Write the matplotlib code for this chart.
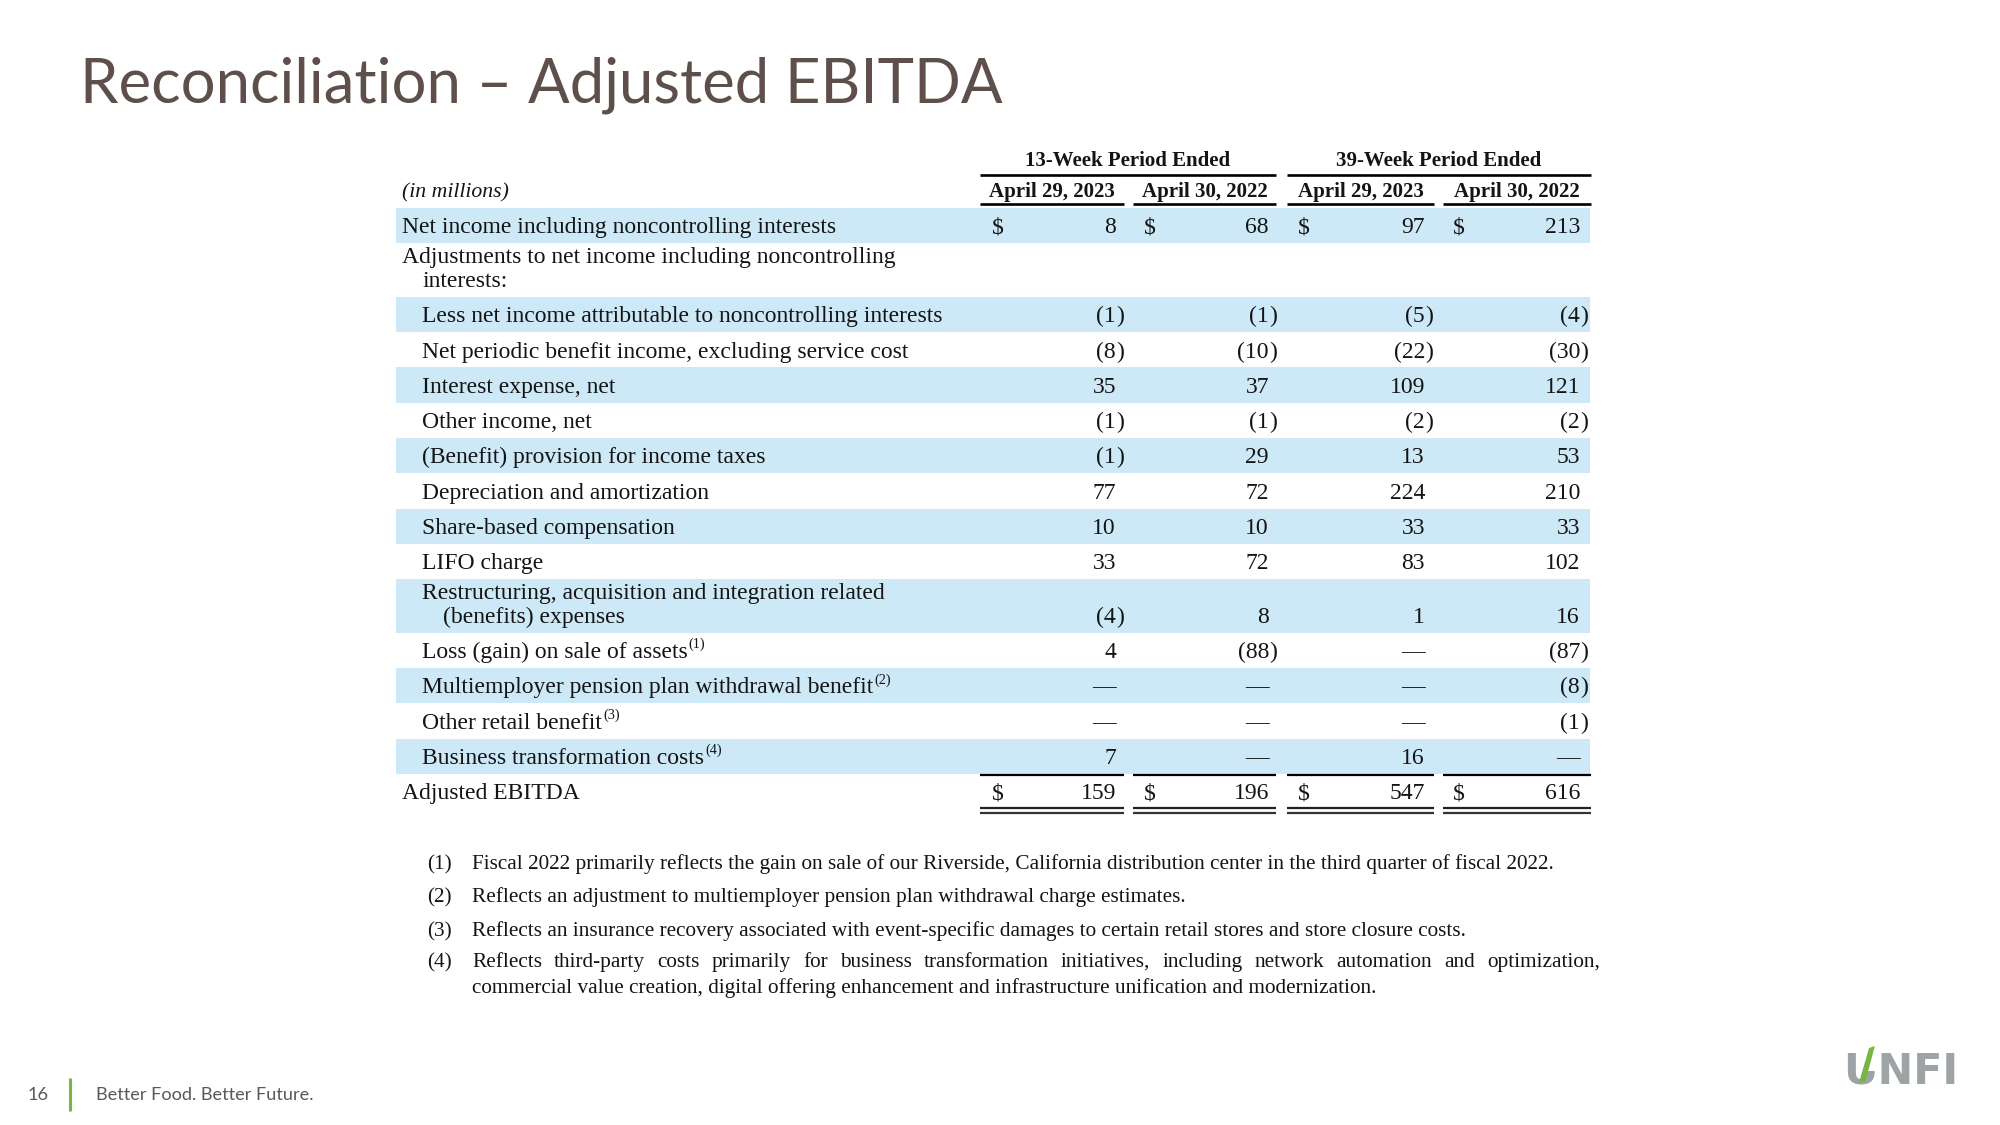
import matplotlib
matplotlib.use('Agg')
import matplotlib.pyplot as plt
from matplotlib.patches import Rectangle, Polygon

# ---------------- data ----------------
title = "Reconciliation – Adjusted EBITDA"
period_headers = ["13-Week Period Ended", "39-Week Period Ended"]
col_headers = ["April 29, 2023", "April 30, 2022", "April 29, 2023", "April 30, 2022"]
unit_label = "(in millions)"
row_labels = [
    "Net income including noncontrolling interests",
    "Adjustments to net income including noncontrolling\ninterests:",
    "Less net income attributable to noncontrolling interests",
    "Net periodic benefit income, excluding service cost",
    "Interest expense, net",
    "Other income, net",
    "(Benefit) provision for income taxes",
    "Depreciation and amortization",
    "Share-based compensation",
    "LIFO charge",
    "Restructuring, acquisition and integration related\n(benefits) expenses",
    "Loss (gain) on sale of assets",
    "Multiemployer pension plan withdrawal benefit",
    "Other retail benefit",
    "Business transformation costs",
    "Adjusted EBITDA",
]
row_levels = [0, 0, 1, 1, 1, 1, 1, 1, 1, 1, 1, 1, 1, 1, 1, 0]
row_notes = [None, None, None, None, None, None, None, None, None, None, None,
             "(1)", "(2)", "(3)", "(4)", None]
wk13_2023 = [8, None, -1, -8, 35, -1, -1, 77, 10, 33, -4, 4, 0, 0, 7, 159]
wk13_2022 = [68, None, -1, -10, 37, -1, 29, 72, 10, 72, 8, -88, 0, 0, 0, 196]
wk39_2023 = [97, None, -5, -22, 109, -2, 13, 224, 33, 83, 1, 0, 0, 0, 16, 547]
wk39_2022 = [213, None, -4, -30, 121, -2, 53, 210, 33, 102, 16, -87, -8, -1, 0, 616]
dollar_rows = [0, 15]
footnotes = [
    ("(1)", ["Fiscal 2022 primarily reflects the gain on sale of our Riverside, California distribution center in the third quarter of fiscal 2022."]),
    ("(2)", ["Reflects an adjustment to multiemployer pension plan withdrawal charge estimates."]),
    ("(3)", ["Reflects an insurance recovery associated with event-specific damages to certain retail stores and store closure costs."]),
    ("(4)", ["Reflects third-party costs primarily for business transformation initiatives, including network automation and optimization,",
             "commercial value creation, digital offering enhancement and infrastructure unification and modernization."]),
]
page_number = "16"
tagline = "Better Food. Better Future."
logo_text = "UNFI"

# ---------------- style ----------------
SERIF = ["Liberation Serif", "DejaVu Serif"]
SANS = ["Lato", "DejaVu Sans"]
TXT = "#141414"
BAND = "#cde9f8"
TITLE_C = "#5e4f4a"
GREEN = "#78b543"
LOGO_GRAY = "#9ea3a6"

fig = plt.figure(figsize=(20, 11.25), dpi=100)
ax = fig.add_axes([0, 0, 1, 1])
ax.set_xlim(0, 2000)
ax.set_ylim(1125, 0)
ax.axis('off')
fig.canvas.draw()
R = fig.canvas.get_renderer()


def width_of(s, **kw):
    t = ax.text(0, 0, s, **kw)
    w = t.get_window_extent(R).width
    t.remove()
    return w


def fit(s, target, **kw):
    return 20.0 * target / width_of(s, fontsize=20, **kw)


# ---------------- title ----------------
title_fs = fit(title, 923, family=SANS)
ax.text(80, 103, title, family=SANS, fontsize=title_fs, color=TITLE_C, va='baseline', ha='left')

# ---------------- table geometry ----------------
body_fs = fit(row_labels[0], 435, family=SERIF)
fpx = body_fs * 100 / 72
hdr_fs = fit(col_headers[0], 126, family=SERIF, weight='bold')
hpx = hdr_fs * 100 / 72

left, right = 396, 1590
x_label0, x_step = 402, 20.5
cols = [  # ($ x, digits right edge, segment left, segment right)
    (992, 1116, 980, 1124),
    (1144, 1269, 1133, 1276),
    (1298, 1425, 1287, 1434),
    (1453, 1580, 1443, 1591),
]
values = [wk13_2023, wk13_2022, wk39_2023, wk39_2022]

top0 = 208
h1, h2, line_gap = 35.3, 53.5, 24.5

# headers
for k, ph in enumerate(period_headers):
    x0 = cols[2 * k][2]
    x1 = cols[2 * k + 1][3]
    ax.text((x0 + x1) / 2, 159 + 0.33 * hpx, ph, family=SERIF, weight='bold', fontsize=hdr_fs,
            color=TXT, ha='center', va='baseline')
    ax.plot([x0, x1], [175, 175], color='black', lw=1.9, solid_capstyle='butt')
for c, ch in zip(cols, col_headers):
    ax.text((c[2] + c[3]) / 2, 190 + 0.33 * hpx, ch, family=SERIF, weight='bold', fontsize=hdr_fs,
            color=TXT, ha='center', va='baseline')
    ax.plot([c[2], c[3]], [204, 204], color='black', lw=1.9, solid_capstyle='butt')
ax.text(x_label0, 190 + 0.33 * fpx, unit_label, family=SERIF, style='italic', fontsize=body_fs * 0.92,
        color=TXT, ha='left', va='baseline')


def fmt(v):
    if v is None:
        return None
    if v == 0:
        return "—"
    return str(abs(v))


y = top0
for i, lab in enumerate(row_labels):
    lines = lab.split("\n")
    h = h1 if len(lines) == 1 else h2
    if i % 2 == 0 and i != len(row_labels) - 1:
        ax.add_patch(Rectangle((left, y), right - left, h, facecolor=BAND, edgecolor='none', zorder=0))
    if len(lines) == 1:
        centers = [y + h / 2]
    else:
        centers = [y + 11.5 + j * line_gap for j in range(len(lines))]
    lvl = row_levels[i]
    last_t = None
    for j, ln in enumerate(lines):
        lx = x_label0 + x_step * (lvl + (1 if j > 0 else 0))
        last_t = ax.text(lx, centers[j] + 0.33 * fpx, ln, family=SERIF, fontsize=body_fs, color=TXT,
                         ha='left', va='baseline')
    if row_notes[i]:
        bb = last_t.get_window_extent(R)
        xr = ax.transData.inverted().transform((bb.x1, bb.y0))[0]
        ax.text(xr + 0.5, centers[-1] + 0.33 * fpx - 0.42 * fpx, row_notes[i], family=SERIF,
                fontsize=body_fs * 0.6, color=TXT, ha='left', va='baseline')
    by = centers[-1] + 0.33 * fpx
    for c, vals in zip(cols, values):
        v = vals[i]
        s = fmt(v)
        if s is None:
            continue
        if v < 0:
            ax.text(c[1], by, "(" + s, family=SERIF, fontsize=body_fs, color=TXT, ha='right', va='baseline')
            ax.text(c[1], by, ")", family=SERIF, fontsize=body_fs, color=TXT, ha='left', va='baseline')
        else:
            ax.text(c[1], by, s, family=SERIF, fontsize=body_fs, color=TXT, ha='right', va='baseline')
        if i in dollar_rows:
            ax.text(c[0], by, "$", family=SERIF, fontsize=body_fs, color=TXT, ha='left', va='baseline')
    if i == len(row_labels) - 1:
        for c in cols:
            ax.plot([c[2], c[3]], [y + 1, y + 1], color='black', lw=1.6, solid_capstyle='butt')
            ax.plot([c[2], c[3]], [y + h - 1.5, y + h - 1.5], color='#222222', lw=1.6, solid_capstyle='butt')
            ax.plot([c[2], c[3]], [y + h + 3.5, y + h + 3.5], color='#333333', lw=1.6, solid_capstyle='butt')
    y += h

# ---------------- footnotes ----------------
fn_fs = fit(footnotes[0][1][0], 1082, family=SERIF)
fnpx = fn_fs * 100 / 72
fn_y = [862, 895, 929, 960]
line2_gap = 26
for (tag, lines), yy in zip(footnotes, fn_y):
    ax.text(427, yy + 0.33 * fnpx, tag, family=SERIF, fontsize=fn_fs, color=TXT, ha='left', va='baseline')
    for j, ln in enumerate(lines):
        ly = yy + j * line2_gap + 0.33 * fnpx
        if len(lines) > 1 and j < len(lines) - 1:
            words = ln.split(" ")
            ws = [width_of(w_, family=SERIF, fontsize=fn_fs) for w_ in words]
            gap = (1600 - 472 - sum(ws)) / (len(words) - 1)
            xx = 472
            for w_, ww in zip(words, ws):
                ax.text(xx, ly, w_, family=SERIF, fontsize=fn_fs, color=TXT, ha='left', va='baseline')
                xx += ww + gap
        else:
            ax.text(472, ly, ln, family=SERIF, fontsize=fn_fs, color=TXT, ha='left', va='baseline')

# ---------------- footer ----------------
foot_fs = fit(tagline, 218, family=SANS)
ax.text(28, 1100, page_number, family=SANS, fontsize=foot_fs, color='#595959', ha='left', va='baseline')
ax.plot([70, 70], [1078, 1111], color=GREEN, lw=2.2, solid_capstyle='butt')
ax.text(96, 1100, tagline, family=SANS, fontsize=foot_fs, color='#595959', ha='left', va='baseline')

# ---------------- logo ----------------
logo_fs = fit(logo_text, 115, family=["DejaVu Sans"], weight='bold')
lt = ax.text(1843, 1083, logo_text, family=["DejaVu Sans"], weight='bold', fontsize=logo_fs,
             color=LOGO_GRAY, ha='left', va='baseline')
uw = width_of("U", family=["DejaVu Sans"], weight='bold', fontsize=logo_fs)
ybot_c = 1083
hh = ybot_c - 1046
ux0 = 1843 + uw * 0.08
uww = uw * 0.84
ax.add_patch(Rectangle((ux0 + 0.62 * uww, 1044), 0.45 * uww, 0.72 * hh, facecolor='white', edgecolor='none', zorder=3))
ax.add_patch(Polygon([(ux0 + 0.45 * uww, ybot_c), (ux0 + 0.68 * uww, ybot_c - 0.05 * hh),
                      (ux0 + 1.0 * uww, 1046), (ux0 + 0.80 * uww, 1048)],
                     closed=True, facecolor=GREEN, edgecolor='none', zorder=4))

fig.savefig("out.png", dpi=100, facecolor='white')
